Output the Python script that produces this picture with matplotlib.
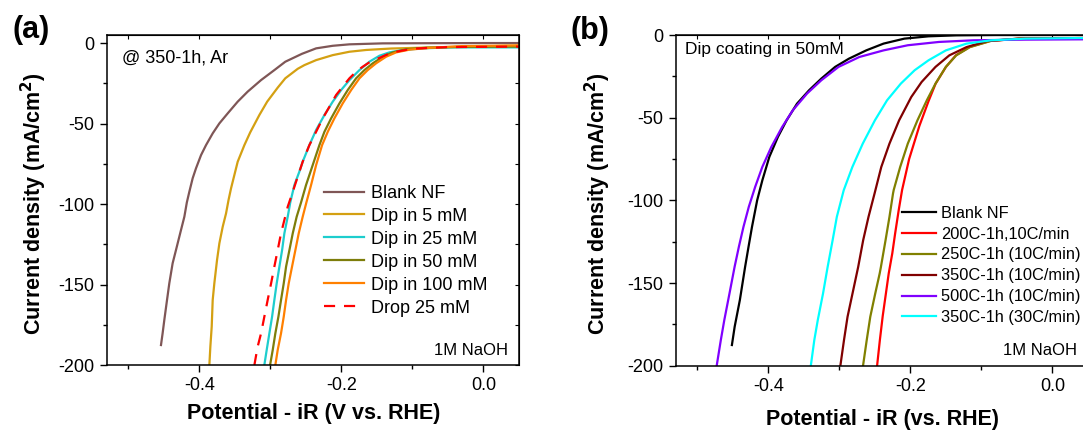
import numpy as np
import matplotlib
matplotlib.use("Agg")
import matplotlib.pyplot as plt
from matplotlib.ticker import MultipleLocator, FormatStrFormatter

plt.rcParams['font.family'] = ['Liberation Sans', 'DejaVu Sans']
plt.rcParams['axes.unicode_minus'] = False

# ---- (a) deposition concentration, annealed 350 C 1 h in Ar ----
blank_a_E = [-0.454, -0.4517, -0.4493, -0.4455, -0.4423, -0.4376, -0.4329, -0.4258, -0.4211,
             -0.4176, -0.4141, -0.4094, -0.4047, -0.3976, -0.3906, -0.3812, -0.3718, -0.3601,
             -0.346, -0.332, -0.3131, -0.2944, -0.279, -0.2556, -0.2356, -0.2122, -0.1887,
             -0.142, -0.08, 0.0, 0.05]
blank_a_j = [-187.6, -180.3, -172, -159.6, -149.3, -136.8, -128.6, -116.1, -107.9,
             -99, -92.4, -84.0, -77.8, -69.6, -63.4, -56.1, -49.9, -43.7,
             -36.4, -30.2, -23.0, -16.8, -11.6, -6.7, -3.3, -1.7, -0.8,
             -0.2, -0.1, 0, 0]

dip5_E = [-0.3859, -0.3845, -0.3826, -0.3812, -0.3789, -0.3751, -0.3718, -0.3671, -0.3624,
          -0.3589, -0.3554, -0.3507, -0.346, -0.3366, -0.3284, -0.3155, -0.3045, -0.2897,
          -0.279, -0.2615, -0.2521, -0.2356, -0.2122, -0.1887, -0.1652, -0.13, -0.08,
          -0.02, 0.05]
dip5_j = [-200, -188.6, -176.2, -159.6, -149.3, -134.8, -124.4, -114.1, -105.8,
          -97.5, -90.3, -82.0, -73.7, -63.4, -55.5, -44.7, -36.4, -27.7,
          -21.9, -16.0, -13.7, -10.6, -7.5, -5.4, -4.3, -3.4, -2.8,
          -2.2, -1.6]

dip25_E = [-0.3085, -0.3052, -0.3014, -0.2976, -0.2944, -0.2911, -0.2873, -0.2835, -0.2803,
           -0.2756, -0.272, -0.2662, -0.2592, -0.2545, -0.2451, -0.2356, -0.2239, -0.2122,
           -0.2004, -0.1887, -0.1746, -0.1606, -0.1465, -0.1324, -0.1136, -0.0855, -0.0479,
           0.05]
dip25_j = [-200, -190.7, -180.3, -170, -159.6, -149.3, -138.9, -128.6, -118.2,
           -107.9, -99, -88.2, -79.9, -73.7, -63.4, -54.0, -44.7, -36.4,
           -29.2, -23.0, -16.8, -11.6, -7.9, -5.8, -4.3, -3.3, -2.7,
           -2.7]

dip50_E = [-0.3004, -0.2967, -0.293, -0.2887, -0.285, -0.2812, -0.2779, -0.2732, -0.2685,
           -0.263, -0.2568, -0.2498, -0.2404, -0.231, -0.2239, -0.2145, -0.2028, -0.1911,
           -0.1793, -0.1676, -0.1559, -0.1418, -0.1277, -0.1089, -0.0807, -0.03, 0.05]
dip50_j = [-200, -190.7, -180.3, -170, -159.6, -149.3, -138.9, -128.6, -118.2,
           -107.9, -99, -88.2, -75.8, -63.4, -55.1, -46.8, -37.5, -29.2,
           -21.9, -16.8, -12.6, -8.5, -5.8, -3.9, -2.9, -2.4, -2.2]

dip100_E = [-0.293, -0.2897, -0.285, -0.2812, -0.2779, -0.2742, -0.2695, -0.2648, -0.2601,
            -0.2545, -0.2493, -0.2427, -0.2356, -0.2272, -0.2192, -0.2099, -0.1982, -0.1863,
            -0.1746, -0.163, -0.1512, -0.1371, -0.123, -0.1042, -0.0761, -0.03, 0.05]
dip100_j = [-200, -190.7, -180.3, -170, -159.6, -149.3, -138.9, -128.6, -118.2,
            -107.9, -99, -88.2, -75.8, -63.4, -55.1, -46.8, -37.5, -29.2,
            -21.9, -16.8, -12.6, -8.5, -5.8, -4.1, -3.0, -1.9, -1.5]

drop25_E = [-0.3225, -0.3179, -0.3131, -0.3085, -0.3038, -0.299, -0.2944, -0.2897, -0.285,
            -0.2803, -0.2756, -0.2685, -0.2638, -0.2545, -0.2451, -0.2356, -0.2263, -0.2169,
            -0.2075, -0.1982, -0.1887, -0.1793, -0.17, -0.1606, -0.1535, -0.13, -0.10,
            -0.05, 0.05]
drop25_j = [-200, -188.6, -180.3, -170, -159.6, -149.3, -138.9, -128.6, -118.2,
            -109.9, -101.7, -92.4, -86.1, -73.7, -63.4, -55.1, -46.8, -39.6,
            -32.3, -27.1, -21.9, -17.8, -14.7, -12.0, -10.6, -6.0, -3.5,
            -2.5, -2.2]

# ---- (b) dip coating in 50 mM, different annealing ----
blank_b_E = [-0.4513, -0.4474, -0.4401, -0.4327, -0.4279, -0.423, -0.4157, -0.4084, -0.3986,
             -0.3865, -0.3743, -0.3596, -0.3426, -0.3255, -0.306, -0.2865, -0.2622, -0.2378,
             -0.2086, -0.1745, -0.1355, -0.08, 0.05]
blank_b_j = [-187.5, -176.4, -160.3, -140.2, -128.1, -116.0, -99.9, -87.8, -73.7,
             -61.6, -51.6, -41.5, -33.4, -26.4, -19.3, -14.3, -9.3, -5.2,
             -2.2, -0.8, -0.2, 0, 0]

t200_E = [-0.2469, -0.243, -0.239, -0.2345, -0.2305, -0.2255, -0.2215, -0.2165, -0.2117,
          -0.2018, -0.1874, -0.1745, -0.1645, -0.150, -0.136, -0.117, -0.088, -0.045, 0.05]
t200_j = [-200, -184.5, -170, -156.3, -144.1, -132, -120, -106, -93.7,
          -75, -55, -40, -29.4, -19.3, -12.3, -7.3, -3.6, -2.2, -1.8]

t250_E = [-0.2667, -0.2615, -0.2565, -0.2495, -0.2432, -0.2415, -0.235, -0.2295, -0.2245,
          -0.2235, -0.2144, -0.2037, -0.1901, -0.1769, -0.1647, -0.1501, -0.1355, -0.116,
          -0.0867, -0.0478, 0.05]
t250_j = [-200, -184.5, -170.4, -156.3, -144.1, -140.2, -124.1, -110.0, -95.9,
          -93.7, -79.8, -65.7, -51.6, -39.5, -29.4, -19.3, -12.3, -7.3,
          -3.6, -2.2, -2.0]

t350_E = [-0.2986, -0.2935, -0.2885, -0.2805, -0.2735, -0.2665, -0.259, -0.2505, -0.241,
          -0.2295, -0.2159, -0.1988, -0.1842, -0.1647, -0.1452, -0.1209, -0.0916, -0.0478,
          0.05]
t350_j = [-200, -184.5, -170.4, -154.3, -140.2, -124.1, -110.0, -95.9, -79.8,
          -65.7, -51.6, -37.5, -28.4, -19.3, -12.3, -7.3, -3.6, -2.2,
          -1.8]

t500_E = [-0.4727, -0.4669, -0.462, -0.4547, -0.4475, -0.4415, -0.435, -0.4275, -0.4185,
          -0.4085, -0.3958, -0.3805, -0.3655, -0.3455, -0.3255, -0.3012, -0.2719, -0.2378,
          -0.2037, -0.1598, -0.1111, -0.038, 0.05]
t500_j = [-200, -184.5, -172.4, -156.3, -140.2, -128.1, -116.0, -103.9, -91.8,
          -79.8, -67.7, -55.6, -45.5, -35.4, -27.4, -19.3, -13.3, -9.3,
          -6.2, -4.2, -3.2, -2.8, -2.6]

t350f_E = [-0.3402, -0.3353, -0.3304, -0.323, -0.3165, -0.3095, -0.3036, -0.2939, -0.2817,
           -0.2671, -0.25, -0.2329, -0.2135, -0.194, -0.1745, -0.1501, -0.1209, -0.0867,
           -0.038, 0.05]
t350f_j = [-200, -184.5, -172.4, -156.3, -140.2, -124.1, -110.0, -93.9, -79.8,
           -65.7, -51.6, -39.5, -29.4, -21.3, -15.3, -9.3, -5.2, -3.2,
           -2.2, -1.8]

W, H = 1083, 430
fig = plt.figure(figsize=(W / 100, H / 100), dpi=100)
ax1 = fig.add_axes([107 / W, (H - 365) / H, 412 / W, 330 / H])
ax2 = fig.add_axes([676 / W, (H - 365.7) / H, 412 / W, 330.7 / H])

lw = 1.6
ax1.plot(blank_a_E, blank_a_j, color='#7f5656', lw=lw, label='Blank NF')
ax1.plot(dip5_E, dip5_j, color='#d4a012', lw=lw, label='Dip in 5 mM')
ax1.plot(dip25_E, dip25_j, color='#1dcdcd', lw=lw, label='Dip in 25 mM')
ax1.plot(dip50_E, dip50_j, color='#7d7d0a', lw=lw, label='Dip in 50 mM')
ax1.plot(dip100_E, dip100_j, color='#ff8000', lw=lw, label='Dip in 100 mM')
ax1.plot(drop25_E, drop25_j, color='#ff0000', lw=lw, ls=(0, (5, 4)), label='Drop 25 mM')

ax2.plot(blank_b_E, blank_b_j, color='black', lw=lw, label='Blank NF')
ax2.plot(t200_E, t200_j, color='#ff0000', lw=lw, label='200C-1h,10C/min')
ax2.plot(t250_E, t250_j, color='#808000', lw=lw, label='250C-1h (10C/min)')
ax2.plot(t350_E, t350_j, color='#800000', lw=lw, label='350C-1h (10C/min)')
ax2.plot(t500_E, t500_j, color='#8000ff', lw=lw, label='500C-1h (10C/min)')
ax2.plot(t350f_E, t350f_j, color='#00ffff', lw=lw, label='350C-1h (30C/min)')

for ax, ytop in ((ax1, 5), (ax2, 0)):
    ax.set_xlim(-0.53, 0.05)
    ax.set_ylim(-200, ytop)
    ax.xaxis.set_major_locator(MultipleLocator(0.2))
    ax.xaxis.set_minor_locator(MultipleLocator(0.1))
    ax.yaxis.set_major_locator(MultipleLocator(50))
    ax.yaxis.set_minor_locator(MultipleLocator(25))
    ax.xaxis.set_major_formatter(FormatStrFormatter('%.1f'))
    ax.yaxis.set_major_formatter(FormatStrFormatter('%d'))
    ax.tick_params(which='both', direction='out', labelsize=13, width=1, pad=4)
    ax.tick_params(which='major', length=5)
    ax.tick_params(which='minor', length=3)
    for s in ax.spines.values():
        s.set_linewidth(1.1)
    # mirrored ticks on top / right, pointing inward
    top = ax.secondary_xaxis('top')
    top.xaxis.set_major_locator(MultipleLocator(0.1))
    top.tick_params(direction='in', length=3, labeltop=False)
    right = ax.secondary_yaxis('right')
    right.yaxis.set_major_locator(MultipleLocator(25))
    right.tick_params(direction='in', length=3, labelright=False)
    ax.set_ylabel('Current density (mA/cm$^\\mathbf{2}$)', fontsize=15.5, fontweight='bold')
    ax.text(0.973, 0.045, '1M NaOH', transform=ax.transAxes, ha='right', va='center', fontsize=12)

ax1.set_xlabel('Potential - iR (V vs. RHE)', fontsize=15.5, fontweight='bold')
ax2.set_xlabel('Potential - iR (vs. RHE)', fontsize=15.5, fontweight='bold')
ax1.xaxis.set_label_coords(0.501, -0.115)
ax2.xaxis.set_label_coords(0.5, -0.13)
ax1.yaxis.set_label_coords(-0.14, 0.49)
ax2.yaxis.set_label_coords(-0.152, 0.49)

ax1.text(0.037, 0.93, '@ 350-1h, Ar', transform=ax1.transAxes, ha='left', va='center', fontsize=13)
ax2.text(0.023, 0.955, 'Dip coating in 50mM', transform=ax2.transAxes, ha='left', va='center', fontsize=12.5)

ax1.legend(loc='upper left', bbox_to_anchor=(0.527, 0.546), frameon=False, fontsize=13,
           borderpad=0, borderaxespad=0, handlelength=2.2, handletextpad=0.4, labelspacing=0.33)
ax2.legend(loc='upper left', bbox_to_anchor=(0.548, 0.484), frameon=False, fontsize=11.8,
           borderpad=0, borderaxespad=0, handlelength=2.1, handletextpad=0.3, labelspacing=0.36)

fig.text(12 / W, 1 - 30 / H, '(a)', fontsize=22, fontweight='bold', ha='left', va='center')
fig.text(571 / W, 1 - 31 / H, '(b)', fontsize=22, fontweight='bold', ha='left', va='center')

fig.savefig('out.png', dpi=100)
